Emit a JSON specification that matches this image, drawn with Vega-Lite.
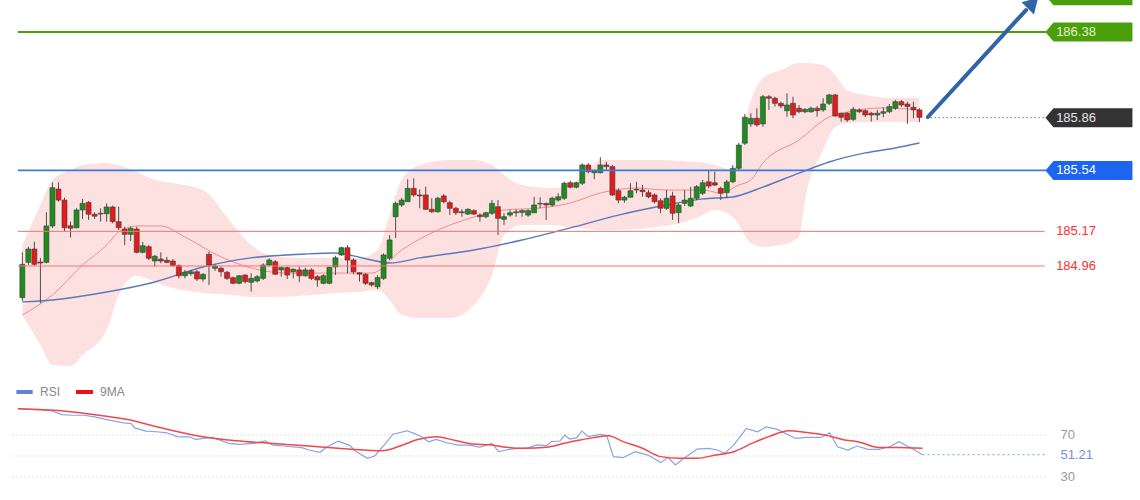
{
  "$schema": "https://vega.github.io/schema/vega-lite/v6.json",
  "width": 1140,
  "height": 500,
  "autosize": {"type": "fit", "contains": "padding"},
  "padding": 0,
  "background": "#ffffff",
  "config": {"view": {"stroke": null}, "font": "Liberation Sans"},
  "datasets": {
    "candles": [
      {"i":0,"o":184.768,"h":185.043,"l":184.748,"c":184.970},
      {"i":1,"o":184.982,"h":185.077,"l":184.966,"c":185.063},
      {"i":2,"o":185.063,"h":185.107,"l":184.962,"c":184.970},
      {"i":3,"o":184.984,"h":185.009,"l":184.735,"c":184.978},
      {"i":4,"o":184.982,"h":185.286,"l":184.976,"c":185.203},
      {"i":5,"o":185.203,"h":185.468,"l":185.189,"c":185.435},
      {"i":6,"o":185.427,"h":185.468,"l":185.350,"c":185.360},
      {"i":7,"o":185.360,"h":185.374,"l":185.168,"c":185.192},
      {"i":8,"o":185.204,"h":185.229,"l":185.132,"c":185.189},
      {"i":9,"o":185.192,"h":185.310,"l":185.189,"c":185.300},
      {"i":10,"o":185.300,"h":185.367,"l":185.245,"c":185.340},
      {"i":11,"o":185.346,"h":185.354,"l":185.239,"c":185.274},
      {"i":12,"o":185.274,"h":185.286,"l":185.245,"c":185.262},
      {"i":13,"o":185.280,"h":185.310,"l":185.229,"c":185.275},
      {"i":14,"o":185.277,"h":185.340,"l":185.229,"c":185.318},
      {"i":15,"o":185.318,"h":185.326,"l":185.219,"c":185.229},
      {"i":16,"o":185.229,"h":185.320,"l":185.178,"c":185.192},
      {"i":17,"o":185.184,"h":185.198,"l":185.087,"c":185.152},
      {"i":18,"o":185.152,"h":185.198,"l":185.112,"c":185.189},
      {"i":19,"o":185.184,"h":185.198,"l":185.037,"c":185.043},
      {"i":20,"o":185.043,"h":185.107,"l":185.037,"c":185.083},
      {"i":21,"o":185.077,"h":185.087,"l":184.996,"c":185.007},
      {"i":22,"o":184.990,"h":185.027,"l":184.956,"c":185.019},
      {"i":23,"o":185.002,"h":185.043,"l":184.976,"c":184.990},
      {"i":24,"o":184.995,"h":185.015,"l":184.976,"c":184.982},
      {"i":25,"o":184.990,"h":185.002,"l":184.956,"c":184.962},
      {"i":26,"o":184.962,"h":184.970,"l":184.885,"c":184.901},
      {"i":27,"o":184.901,"h":184.936,"l":184.885,"c":184.922},
      {"i":28,"o":184.913,"h":184.936,"l":184.901,"c":184.925},
      {"i":29,"o":184.925,"h":184.936,"l":184.869,"c":184.881},
      {"i":30,"o":184.881,"h":184.916,"l":184.865,"c":184.910},
      {"i":31,"o":185.031,"h":185.047,"l":184.845,"c":184.966},
      {"i":32,"o":184.946,"h":184.970,"l":184.930,"c":184.960},
      {"i":33,"o":184.946,"h":184.956,"l":184.895,"c":184.925},
      {"i":34,"o":184.922,"h":184.930,"l":184.875,"c":184.885},
      {"i":35,"o":184.889,"h":184.895,"l":184.849,"c":184.855},
      {"i":36,"o":184.855,"h":184.905,"l":184.849,"c":184.901},
      {"i":37,"o":184.905,"h":184.910,"l":184.855,"c":184.865},
      {"i":38,"o":184.861,"h":184.916,"l":184.804,"c":184.885},
      {"i":39,"o":184.869,"h":184.905,"l":184.861,"c":184.895},
      {"i":40,"o":184.885,"h":184.976,"l":184.875,"c":184.966},
      {"i":41,"o":184.966,"h":185.007,"l":184.956,"c":184.996},
      {"i":42,"o":184.986,"h":184.996,"l":184.905,"c":184.910},
      {"i":43,"o":184.936,"h":184.956,"l":184.895,"c":184.950},
      {"i":44,"o":184.950,"h":184.956,"l":184.881,"c":184.905},
      {"i":45,"o":184.925,"h":184.946,"l":184.885,"c":184.940},
      {"i":46,"o":184.936,"h":184.956,"l":184.861,"c":184.901},
      {"i":47,"o":184.901,"h":184.950,"l":184.895,"c":184.936},
      {"i":48,"o":184.936,"h":184.946,"l":184.875,"c":184.885},
      {"i":49,"o":184.895,"h":184.905,"l":184.834,"c":184.875},
      {"i":50,"o":184.855,"h":184.910,"l":184.849,"c":184.901},
      {"i":51,"o":184.855,"h":184.956,"l":184.849,"c":184.952},
      {"i":52,"o":184.954,"h":185.022,"l":184.905,"c":185.010},
      {"i":53,"o":185.027,"h":185.077,"l":185.022,"c":185.071},
      {"i":54,"o":185.071,"h":185.087,"l":184.916,"c":184.996},
      {"i":55,"o":184.996,"h":185.007,"l":184.910,"c":184.925},
      {"i":56,"o":184.919,"h":184.922,"l":184.865,"c":184.910},
      {"i":57,"o":184.910,"h":184.916,"l":184.845,"c":184.855},
      {"i":58,"o":184.859,"h":184.865,"l":184.834,"c":184.845},
      {"i":59,"o":184.834,"h":184.905,"l":184.820,"c":184.890},
      {"i":60,"o":184.885,"h":185.037,"l":184.875,"c":185.027},
      {"i":61,"o":185.007,"h":185.148,"l":184.996,"c":185.118},
      {"i":62,"o":185.259,"h":185.350,"l":185.130,"c":185.340},
      {"i":63,"o":185.330,"h":185.373,"l":185.318,"c":185.360},
      {"i":64,"o":185.350,"h":185.486,"l":185.350,"c":185.431},
      {"i":65,"o":185.431,"h":185.492,"l":185.380,"c":185.391},
      {"i":66,"o":185.391,"h":185.425,"l":185.310,"c":185.385},
      {"i":67,"o":185.391,"h":185.441,"l":185.300,"c":185.304},
      {"i":68,"o":185.304,"h":185.371,"l":185.283,"c":185.289},
      {"i":69,"o":185.289,"h":185.380,"l":185.283,"c":185.371},
      {"i":70,"o":185.385,"h":185.397,"l":185.340,"c":185.350},
      {"i":71,"o":185.344,"h":185.356,"l":185.269,"c":185.310},
      {"i":72,"o":185.310,"h":185.320,"l":185.269,"c":185.283},
      {"i":73,"o":185.289,"h":185.304,"l":185.259,"c":185.283},
      {"i":74,"o":185.275,"h":185.310,"l":185.269,"c":185.304},
      {"i":75,"o":185.296,"h":185.304,"l":185.269,"c":185.275},
      {"i":76,"o":185.269,"h":185.280,"l":185.229,"c":185.259},
      {"i":77,"o":185.259,"h":185.289,"l":185.249,"c":185.283},
      {"i":78,"o":185.280,"h":185.360,"l":185.269,"c":185.340},
      {"i":79,"o":185.320,"h":185.360,"l":185.148,"c":185.249},
      {"i":80,"o":185.243,"h":185.280,"l":185.209,"c":185.259},
      {"i":81,"o":185.269,"h":185.300,"l":185.259,"c":185.283},
      {"i":82,"o":185.283,"h":185.304,"l":185.259,"c":185.289},
      {"i":83,"o":185.285,"h":185.304,"l":185.259,"c":185.296},
      {"i":84,"o":185.269,"h":185.304,"l":185.259,"c":185.296},
      {"i":85,"o":185.283,"h":185.380,"l":185.280,"c":185.330},
      {"i":86,"o":185.336,"h":185.377,"l":185.310,"c":185.340},
      {"i":87,"o":185.340,"h":185.344,"l":185.239,"c":185.330},
      {"i":88,"o":185.330,"h":185.380,"l":185.320,"c":185.371},
      {"i":89,"o":185.360,"h":185.401,"l":185.350,"c":185.380},
      {"i":90,"o":185.371,"h":185.471,"l":185.360,"c":185.462},
      {"i":91,"o":185.465,"h":185.478,"l":185.431,"c":185.438},
      {"i":92,"o":185.438,"h":185.471,"l":185.431,"c":185.465},
      {"i":93,"o":185.462,"h":185.583,"l":185.451,"c":185.573},
      {"i":94,"o":185.573,"h":185.583,"l":185.522,"c":185.532},
      {"i":95,"o":185.526,"h":185.542,"l":185.486,"c":185.538},
      {"i":96,"o":185.526,"h":185.620,"l":185.522,"c":185.573},
      {"i":97,"o":185.573,"h":185.593,"l":185.538,"c":185.563},
      {"i":98,"o":185.563,"h":185.573,"l":185.385,"c":185.391},
      {"i":99,"o":185.417,"h":185.431,"l":185.340,"c":185.360},
      {"i":100,"o":185.360,"h":185.385,"l":185.344,"c":185.377},
      {"i":101,"o":185.377,"h":185.462,"l":185.377,"c":185.417},
      {"i":102,"o":185.425,"h":185.471,"l":185.401,"c":185.421},
      {"i":103,"o":185.421,"h":185.451,"l":185.380,"c":185.411},
      {"i":104,"o":185.405,"h":185.421,"l":185.371,"c":185.380},
      {"i":105,"o":185.391,"h":185.401,"l":185.340,"c":185.350},
      {"i":106,"o":185.356,"h":185.371,"l":185.280,"c":185.310},
      {"i":107,"o":185.310,"h":185.421,"l":185.300,"c":185.371},
      {"i":108,"o":185.385,"h":185.411,"l":185.239,"c":185.280},
      {"i":109,"o":185.283,"h":185.340,"l":185.219,"c":185.330},
      {"i":110,"o":185.340,"h":185.421,"l":185.324,"c":185.360},
      {"i":111,"o":185.324,"h":185.441,"l":185.318,"c":185.371},
      {"i":112,"o":185.371,"h":185.451,"l":185.360,"c":185.441},
      {"i":113,"o":185.401,"h":185.482,"l":185.391,"c":185.465},
      {"i":114,"o":185.471,"h":185.542,"l":185.431,"c":185.445},
      {"i":115,"o":185.465,"h":185.532,"l":185.445,"c":185.451},
      {"i":116,"o":185.431,"h":185.441,"l":185.360,"c":185.401},
      {"i":117,"o":185.405,"h":185.482,"l":185.371,"c":185.470},
      {"i":118,"o":185.471,"h":185.573,"l":185.462,"c":185.553},
      {"i":119,"o":185.553,"h":185.708,"l":185.542,"c":185.694},
      {"i":120,"o":185.705,"h":185.882,"l":185.694,"c":185.862},
      {"i":121,"o":185.822,"h":185.887,"l":185.805,"c":185.856},
      {"i":122,"o":185.856,"h":185.917,"l":185.805,"c":185.816},
      {"i":123,"o":185.822,"h":185.998,"l":185.805,"c":185.987},
      {"i":124,"o":185.987,"h":185.998,"l":185.907,"c":185.978},
      {"i":125,"o":185.978,"h":185.987,"l":185.927,"c":185.947},
      {"i":126,"o":185.947,"h":185.957,"l":185.917,"c":185.931},
      {"i":127,"o":185.902,"h":186.008,"l":185.866,"c":185.937},
      {"i":128,"o":185.947,"h":185.987,"l":185.856,"c":185.876},
      {"i":129,"o":185.917,"h":185.937,"l":185.887,"c":185.896},
      {"i":130,"o":185.896,"h":185.917,"l":185.887,"c":185.911},
      {"i":131,"o":185.896,"h":185.927,"l":185.890,"c":185.917},
      {"i":132,"o":185.917,"h":185.931,"l":185.866,"c":185.902},
      {"i":133,"o":185.907,"h":185.978,"l":185.896,"c":185.943},
      {"i":134,"o":185.947,"h":186.004,"l":185.937,"c":185.998},
      {"i":135,"o":185.998,"h":186.004,"l":185.866,"c":185.870},
      {"i":136,"o":185.887,"h":185.890,"l":185.836,"c":185.862},
      {"i":137,"o":185.887,"h":185.894,"l":185.834,"c":185.846},
      {"i":138,"o":185.850,"h":185.925,"l":185.840,"c":185.911},
      {"i":139,"o":185.907,"h":185.917,"l":185.887,"c":185.896},
      {"i":140,"o":185.902,"h":185.911,"l":185.864,"c":185.876},
      {"i":141,"o":185.887,"h":185.896,"l":185.836,"c":185.876},
      {"i":142,"o":185.876,"h":185.907,"l":185.846,"c":185.887},
      {"i":143,"o":185.887,"h":185.923,"l":185.862,"c":185.896},
      {"i":144,"o":185.896,"h":185.943,"l":185.887,"c":185.927},
      {"i":145,"o":185.917,"h":185.967,"l":185.907,"c":185.957},
      {"i":146,"o":185.957,"h":185.967,"l":185.925,"c":185.937},
      {"i":147,"o":185.943,"h":185.957,"l":185.822,"c":185.927},
      {"i":148,"o":185.923,"h":185.957,"l":185.856,"c":185.907},
      {"i":149,"o":185.907,"h":185.917,"l":185.834,"c":185.862}
    ],
    "bands": [
      {"i":0,"up":185.087,"lo":184.663},
      {"i":3,"up":185.330,"lo":184.481},
      {"i":5,"up":185.482,"lo":184.359},
      {"i":8,"up":185.542,"lo":184.353},
      {"i":10,"up":185.573,"lo":184.420},
      {"i":14,"up":185.585,"lo":184.572},
      {"i":16,"up":185.573,"lo":184.784},
      {"i":19,"up":185.530,"lo":184.900},
      {"i":22,"up":185.482,"lo":184.863},
      {"i":25,"up":185.464,"lo":184.826},
      {"i":30,"up":185.421,"lo":184.796},
      {"i":35,"up":185.209,"lo":184.784},
      {"i":38,"up":185.087,"lo":184.772},
      {"i":41,"up":185.027,"lo":184.772},
      {"i":46,"up":185.009,"lo":184.778},
      {"i":52,"up":185.009,"lo":184.796},
      {"i":56,"up":185.009,"lo":184.802},
      {"i":59,"up":185.057,"lo":184.814},
      {"i":61,"up":185.269,"lo":184.754},
      {"i":63,"up":185.482,"lo":184.663},
      {"i":66,"up":185.573,"lo":184.644},
      {"i":71,"up":185.603,"lo":184.644},
      {"i":75,"up":185.603,"lo":184.723},
      {"i":78,"up":185.573,"lo":184.905},
      {"i":80,"up":185.512,"lo":185.148},
      {"i":83,"up":185.451,"lo":185.209},
      {"i":88,"up":185.433,"lo":185.209},
      {"i":91,"up":185.451,"lo":185.197},
      {"i":94,"up":185.542,"lo":185.184},
      {"i":96,"up":185.603,"lo":185.178},
      {"i":104,"up":185.603,"lo":185.191},
      {"i":112,"up":185.591,"lo":185.251},
      {"i":115,"up":185.573,"lo":185.300},
      {"i":118,"up":185.542,"lo":185.257},
      {"i":121,"up":185.967,"lo":185.099},
      {"i":123,"up":186.101,"lo":185.075},
      {"i":126,"up":186.149,"lo":185.087},
      {"i":129,"up":186.192,"lo":185.136},
      {"i":130,"up":186.192,"lo":185.360},
      {"i":133,"up":186.180,"lo":185.664},
      {"i":135,"up":186.119,"lo":185.803},
      {"i":137,"up":186.028,"lo":185.828},
      {"i":140,"up":185.998,"lo":185.834},
      {"i":145,"up":185.979,"lo":185.834},
      {"i":149,"up":185.979,"lo":185.834}
    ],
    "mid": [
      {"i":0,"v":184.663},{"i":5,"v":184.784},{"i":10,"v":184.966},{"i":14,"v":185.087},
      {"i":16,"v":185.166},{"i":19,"v":185.203},{"i":23,"v":185.203},{"i":27,"v":185.136},
      {"i":33,"v":185.015},{"i":38,"v":184.948},{"i":44,"v":184.917},{"i":52,"v":184.917},
      {"i":58,"v":184.917},{"i":63,"v":185.057},{"i":69,"v":185.178},{"i":75,"v":185.257},
      {"i":80,"v":185.300},{"i":86,"v":185.312},{"i":91,"v":185.342},{"i":96,"v":185.403},
      {"i":102,"v":185.433},{"i":107,"v":185.421},{"i":113,"v":185.421},{"i":116,"v":185.403},
      {"i":119,"v":185.451},{"i":121,"v":185.482},{"i":123,"v":185.585},{"i":129,"v":185.725},
      {"i":134,"v":185.864},{"i":137,"v":185.894},{"i":143,"v":185.919},{"i":149,"v":185.907}
    ],
    "slow": [
      {"i":0,"v":184.742},{"i":5,"v":184.754},{"i":14,"v":184.802},{"i":22,"v":184.863},
      {"i":30,"v":184.954},{"i":38,"v":185.009},{"i":47,"v":185.033},{"i":52,"v":185.039},
      {"i":55,"v":185.021},{"i":58,"v":184.996},{"i":61,"v":184.978},{"i":66,"v":185.009},
      {"i":75,"v":185.057},{"i":83,"v":185.118},{"i":91,"v":185.191},{"i":99,"v":185.269},
      {"i":107,"v":185.330},{"i":113,"v":185.367},{"i":118,"v":185.379},{"i":123,"v":185.439},
      {"i":129,"v":185.524},{"i":134,"v":185.591},{"i":140,"v":185.646},{"i":145,"v":185.676},
      {"i":149,"v":185.706}
    ],
    "levels": [
      {"p":186.6,"label":"","kind":"top"},
      {"p":186.38,"label":"186.38","kind":"target"},
      {"p":185.86,"label":"185.86","kind":"price"},
      {"p":185.54,"label":"185.54","kind":"support"},
      {"p":185.17,"label":"185.17","kind":"s1"},
      {"p":184.96,"label":"184.96","kind":"s2"}
    ],
    "rsi": [
      {"i":0.1,"v":95.1},{"i":3.1,"v":94.2},{"i":5.5,"v":93.5},{"i":7.3,"v":89.4},{"i":9.1,"v":88.8},
      {"i":10.9,"v":88.8},{"i":12.7,"v":87.2},{"i":15.1,"v":84.1},{"i":17.5,"v":81.5},{"i":18.7,"v":80.9},
      {"i":19.3,"v":76.8},{"i":21.1,"v":73.7},{"i":22.9,"v":73.1},{"i":24.6,"v":72.1},{"i":26.4,"v":68.3},
      {"i":28.2,"v":68.3},{"i":29.4,"v":65.8},{"i":30.6,"v":66.7},{"i":31.8,"v":67.7},{"i":33,"v":65.8},
      {"i":34.8,"v":62},{"i":36.6,"v":61},{"i":39,"v":62},{"i":40.8,"v":64.5},{"i":42,"v":60.4},
      {"i":43.8,"v":59.5},{"i":45,"v":58.8},{"i":46.8,"v":57.9},{"i":48,"v":55.7},{"i":49.8,"v":53.5},
      {"i":51,"v":58.8},{"i":52.8,"v":64.2},{"i":54.6,"v":60.4},{"i":55.8,"v":54.1},{"i":57.6,"v":47.8},
      {"i":58.8,"v":50},{"i":60.6,"v":62},{"i":61.8,"v":70.8},{"i":64.1,"v":74},{"i":65.3,"v":71.5},
      {"i":66.5,"v":68.3},{"i":67.7,"v":63.6},{"i":68.9,"v":65.8},{"i":70.7,"v":62.6},{"i":72.5,"v":60.4},
      {"i":74.3,"v":60.4},{"i":76.1,"v":58.5},{"i":78.1,"v":62},{"i":79.2,"v":54.1},{"i":80.5,"v":55.7},
      {"i":82.2,"v":57.3},{"i":83.8,"v":57.3},{"i":85.5,"v":60.5},{"i":87.1,"v":59.8},{"i":87.9,"v":63.7},
      {"i":89.3,"v":64.3},{"i":90.1,"v":70},{"i":90.9,"v":66.2},{"i":92.1,"v":67.5},{"i":92.9,"v":73.8},
      {"i":94,"v":68.4},{"i":95.9,"v":70.6},{"i":97,"v":69.4},{"i":98.1,"v":49.4},{"i":99.7,"v":48.4},
      {"i":101.7,"v":54.1},{"i":103.8,"v":50.9},{"i":105.9,"v":43.7},{"i":107.1,"v":48.7},{"i":108.3,"v":41.5},
      {"i":109.5,"v":46.9},{"i":111.9,"v":56.6},{"i":113.7,"v":57.3},{"i":115.2,"v":55.7},{"i":116.4,"v":52.5},
      {"i":117.9,"v":60.4},{"i":120,"v":76.2},{"i":121.8,"v":73},{"i":123.3,"v":77.8},{"i":125.1,"v":75.3},
      {"i":128.1,"v":66.7},{"i":129.9,"v":67.7},{"i":132.3,"v":67.7},{"i":133.7,"v":72.1},{"i":135,"v":58.8},
      {"i":136.7,"v":55.7},{"i":138.2,"v":59.5},{"i":140,"v":56.3},{"i":141.8,"v":56.3},{"i":143.6,"v":58.8},
      {"i":145.1,"v":63.6},{"i":147.2,"v":57.3},{"i":149,"v":51.21}
    ],
    "rsima": [
      {"i":0.1,"v":95.1},{"i":6.1,"v":93.5},{"i":12.1,"v":89.7},{"i":18.1,"v":84.7},{"i":24.1,"v":76.2},
      {"i":30,"v":68.9},{"i":36,"v":64.5},{"i":42,"v":62},{"i":48,"v":59.5},{"i":52.8,"v":57.3},
      {"i":57,"v":55.7},{"i":60,"v":55},{"i":63,"v":59.5},{"i":65.9,"v":65.8},{"i":68.9,"v":68.3},
      {"i":71.9,"v":65.1},{"i":74.9,"v":61.4},{"i":78.1,"v":60.5},{"i":80.5,"v":58.3},{"i":83.3,"v":57.3},
      {"i":87.1,"v":58.3},{"i":89.9,"v":62},{"i":92.6,"v":65.2},{"i":94.8,"v":67.5},{"i":97.3,"v":69.4},
      {"i":99.7,"v":63.7},{"i":102.7,"v":57.8},{"i":105.9,"v":49.4},{"i":108.9,"v":47.8},{"i":111.9,"v":47.8},
      {"i":114.9,"v":50.9},{"i":117.9,"v":54.1},{"i":120.9,"v":62},{"i":123.9,"v":68.9},{"i":126.9,"v":74.1},
      {"i":129.9,"v":72.5},{"i":132.9,"v":70},{"i":135.8,"v":65.8},{"i":138.8,"v":62.9},{"i":141.8,"v":58.2},
      {"i":144.8,"v":58.2},{"i":149,"v":57.3}
    ],
    "rsilabels": [
      {"r":70,"label":"70","kind":"grid"},
      {"r":51.21,"label":"51.21","kind":"value"},
      {"r":30,"label":"30","kind":"grid"}
    ],
    "legend": [
      {"name":"RSI","x1":-0.18,"x2":2.5,"tx":3.7},
      {"name":"9MA","x1":9.63,"x2":12.43,"tx":13.58}
    ]
  },
  "resolve": {"scale": {"x": "independent", "y": "independent"}},
  "layer": [
    {
      "layer": [
        {
          "data": {"name": "bands"},
          "mark": {"type": "area", "color": "#fde1e1", "interpolate": "monotone"},
          "encoding": {
            "x": {"field": "i", "type": "quantitative", "scale": {"domain": [-2.881, 184.8], "nice": false, "zero": false}, "axis": null},
            "y": {"field": "lo", "type": "quantitative", "scale": {"domain": [183.54, 186.574], "nice": false, "zero": false}, "axis": null},
            "y2": {"field": "up"}
          }
        },
        {
          "data": {"name": "mid"},
          "mark": {"type": "line", "color": "#f48a8a", "strokeWidth": 1, "interpolate": "monotone"},
          "encoding": {
            "x": {"field": "i", "type": "quantitative", "scale": {"domain": [-2.881, 184.8], "nice": false, "zero": false}, "axis": null},
            "y": {"field": "v", "type": "quantitative", "scale": {"domain": [183.54, 186.574], "nice": false, "zero": false}, "axis": null}
          }
        },
        {
          "data": {"name": "slow"},
          "mark": {"type": "line", "color": "#5b79b9", "strokeWidth": 1.4, "interpolate": "monotone"},
          "encoding": {
            "x": {"field": "i", "type": "quantitative", "scale": {"domain": [-2.881, 184.8], "nice": false, "zero": false}, "axis": null},
            "y": {"field": "v", "type": "quantitative", "scale": {"domain": [183.54, 186.574], "nice": false, "zero": false}, "axis": null}
          }
        },
        {
          "data": {"name": "candles"},
          "mark": {"type": "rule", "color": "#4d4d4d", "strokeWidth": 1},
          "encoding": {
            "x": {"field": "i", "type": "quantitative", "scale": {"domain": [-2.881, 184.8], "nice": false, "zero": false}, "axis": null},
            "y": {"field": "l", "type": "quantitative", "scale": {"domain": [183.54, 186.574], "nice": false, "zero": false}, "axis": null},
            "y2": {"field": "h"}
          }
        },
        {
          "data": {"name": "candles"},
          "mark": {"type": "bar", "width": 5, "stroke": "#3c3c3c", "strokeWidth": 0.6},
          "encoding": {
            "x": {"field": "i", "type": "quantitative", "scale": {"domain": [-2.881, 184.8], "nice": false, "zero": false}, "axis": null},
            "y": {"field": "o", "type": "quantitative", "scale": {"domain": [183.54, 186.574], "nice": false, "zero": false}, "axis": null},
            "y2": {"field": "c"},
            "fill": {"condition": {"test": "datum.c >= datum.o", "value": "#1f8c1f"}, "value": "#e31b1b"}
          }
        },
        {
          "data": {"name": "levels"},
          "transform": [{"filter": "datum.kind === 's1' || datum.kind === 's2'"}],
          "mark": {"type": "rule", "color": "#ff7070", "strokeWidth": 1},
          "encoding": {
            "x": {"datum": -0.74, "type": "quantitative", "scale": {"domain": [-2.881, 184.8], "nice": false, "zero": false}, "axis": null},
            "x2": {"datum": 169.8},
            "y": {"field": "p", "type": "quantitative", "scale": {"domain": [183.54, 186.574], "nice": false, "zero": false}, "axis": null}
          }
        },
        {
          "data": {"name": "levels"},
          "transform": [{"filter": "datum.kind === 'target'"}],
          "mark": {"type": "rule", "color": "#4b9e0c", "strokeWidth": 2},
          "encoding": {
            "x": {"datum": -0.74, "type": "quantitative", "scale": {"domain": [-2.881, 184.8], "nice": false, "zero": false}, "axis": null},
            "x2": {"datum": 170},
            "y": {"field": "p", "type": "quantitative", "scale": {"domain": [183.54, 186.574], "nice": false, "zero": false}, "axis": null}
          }
        },
        {
          "data": {"name": "levels"},
          "transform": [{"filter": "datum.kind === 'support'"}],
          "mark": {"type": "rule", "color": "#3b7be0", "strokeWidth": 1.6},
          "encoding": {
            "x": {"datum": -0.74, "type": "quantitative", "scale": {"domain": [-2.881, 184.8], "nice": false, "zero": false}, "axis": null},
            "x2": {"datum": 170},
            "y": {"field": "p", "type": "quantitative", "scale": {"domain": [183.54, 186.574], "nice": false, "zero": false}, "axis": null}
          }
        },
        {
          "data": {"name": "levels"},
          "transform": [{"filter": "datum.kind === 'price'"}],
          "mark": {"type": "rule", "color": "#333333", "strokeWidth": 1, "strokeDash": [1, 3]},
          "encoding": {
            "x": {"datum": 150.2, "type": "quantitative", "scale": {"domain": [-2.881, 184.8], "nice": false, "zero": false}, "axis": null},
            "x2": {"datum": 170},
            "y": {"field": "p", "type": "quantitative", "scale": {"domain": [183.54, 186.574], "nice": false, "zero": false}, "axis": null}
          }
        },
        {
          "data": {"values": [{}]},
          "mark": {"type": "rule", "color": "#2f64a9", "strokeWidth": 4, "strokeCap": "round", "clip": true},
          "encoding": {
            "x": {"datum": 150.4, "type": "quantitative", "scale": {"domain": [-2.881, 184.8], "nice": false, "zero": false}, "axis": null},
            "y": {"datum": 185.864, "type": "quantitative", "scale": {"domain": [183.54, 186.574], "nice": false, "zero": false}, "axis": null},
            "x2": {"datum": 166.7},
            "y2": {"datum": 186.513}
          }
        },
        {
          "data": {"values": [{}]},
          "mark": {"type": "point", "shape": "triangle-up", "filled": true, "color": "#2f64a9", "opacity": 1, "size": 300, "angle": 44, "clip": true},
          "encoding": {
            "x": {"datum": 167.85, "type": "quantitative", "scale": {"domain": [-2.881, 184.8], "nice": false, "zero": false}, "axis": null},
            "y": {"datum": 186.556, "type": "quantitative", "scale": {"domain": [183.54, 186.574], "nice": false, "zero": false}, "axis": null}
          }
        },
        {
          "data": {"name": "levels"},
          "transform": [{"filter": "datum.kind !== 's1' && datum.kind !== 's2'"}],
          "mark": {"type": "point", "shape": "M -1 0 L -0.816 -0.218 L 1 -0.218 L 1 0.218 L -0.816 0.218 Z", "filled": true, "opacity": 1, "size": 7569, "clip": true},
          "encoding": {
            "x": {"datum": 177.15, "type": "quantitative", "scale": {"domain": [-2.881, 184.8], "nice": false, "zero": false}, "axis": null},
            "y": {"field": "p", "type": "quantitative", "scale": {"domain": [183.54, 186.574], "nice": false, "zero": false}, "axis": null},
            "fill": {"condition": [{"test": "datum.kind === 'price'", "value": "#333333"}, {"test": "datum.kind === 'support'", "value": "#1d64ef"}], "value": "#4c9f0c"}
          }
        },
        {
          "data": {"name": "levels"},
          "transform": [{"filter": "datum.label !== ''"}],
          "mark": {"type": "text", "align": "left", "baseline": "middle", "fontSize": 13, "font": "Liberation Sans"},
          "encoding": {
            "x": {"datum": 171.7, "type": "quantitative", "scale": {"domain": [-2.881, 184.8], "nice": false, "zero": false}, "axis": null},
            "y": {"field": "p", "type": "quantitative", "scale": {"domain": [183.54, 186.574], "nice": false, "zero": false}, "axis": null},
            "text": {"field": "label"},
            "fill": {"condition": [{"test": "datum.kind === 'target'", "value": "#e4f2cf"}, {"test": "datum.kind === 'price'", "value": "#e6e6e6"}, {"test": "datum.kind === 'support'", "value": "#ffffff"}], "value": "#ff2e2e"}
          }
        }
      ]
    },
    {
      "layer": [
        {
          "data": {"values": [{"r": 70}, {"r": 30}]},
          "mark": {"type": "rule", "color": "#c4c4c4", "strokeWidth": 1, "strokeDash": [1, 3]},
          "encoding": {
            "x": {"datum": -0.8, "type": "quantitative", "scale": {"domain": [-2.881, 184.8], "nice": false, "zero": false}, "axis": null},
            "x2": {"datum": 169.3},
            "y": {"field": "r", "type": "quantitative", "scale": {"domain": [8.095, 484.29], "nice": false, "zero": false}, "axis": null}
          }
        },
        {
          "data": {"values": [{"r": 50}]},
          "mark": {"type": "rule", "color": "#c4c4c4", "strokeWidth": 1, "strokeDash": [1, 3]},
          "encoding": {
            "x": {"datum": -0.8, "type": "quantitative", "scale": {"domain": [-2.881, 184.8], "nice": false, "zero": false}, "axis": null},
            "x2": {"datum": 149},
            "y": {"field": "r", "type": "quantitative", "scale": {"domain": [8.095, 484.29], "nice": false, "zero": false}, "axis": null}
          }
        },
        {
          "data": {"values": [{"r": 51.21}]},
          "mark": {"type": "rule", "color": "#7f9de4", "strokeWidth": 1, "strokeDash": [2, 3]},
          "encoding": {
            "x": {"datum": 149, "type": "quantitative", "scale": {"domain": [-2.881, 184.8], "nice": false, "zero": false}, "axis": null},
            "x2": {"datum": 169.3},
            "y": {"field": "r", "type": "quantitative", "scale": {"domain": [8.095, 484.29], "nice": false, "zero": false}, "axis": null}
          }
        },
        {
          "data": {"name": "rsi"},
          "mark": {"type": "line", "color": "#86a3e6", "strokeWidth": 1.2},
          "encoding": {
            "x": {"field": "i", "type": "quantitative", "scale": {"domain": [-2.881, 184.8], "nice": false, "zero": false}, "axis": null},
            "y": {"field": "v", "type": "quantitative", "scale": {"domain": [8.095, 484.29], "nice": false, "zero": false}, "axis": null}
          }
        },
        {
          "data": {"name": "rsima"},
          "mark": {"type": "line", "color": "#f2474a", "strokeWidth": 1.5, "interpolate": "monotone"},
          "encoding": {
            "x": {"field": "i", "type": "quantitative", "scale": {"domain": [-2.881, 184.8], "nice": false, "zero": false}, "axis": null},
            "y": {"field": "v", "type": "quantitative", "scale": {"domain": [8.095, 484.29], "nice": false, "zero": false}, "axis": null}
          }
        },
        {
          "data": {"name": "rsilabels"},
          "mark": {"type": "text", "align": "left", "baseline": "middle", "fontSize": 13, "font": "Liberation Sans"},
          "encoding": {
            "x": {"datum": 171.7, "type": "quantitative", "scale": {"domain": [-2.881, 184.8], "nice": false, "zero": false}, "axis": null},
            "y": {"field": "r", "type": "quantitative", "scale": {"domain": [8.095, 484.29], "nice": false, "zero": false}, "axis": null},
            "text": {"field": "label"},
            "fill": {"condition": {"test": "datum.kind === 'value'", "value": "#6f90e2"}, "value": "#9a9a9a"}
          }
        },
        {
          "data": {"name": "legend"},
          "mark": {"type": "rule", "strokeWidth": 4},
          "encoding": {
            "x": {"field": "x1", "type": "quantitative", "scale": {"domain": [-2.881, 184.8], "nice": false, "zero": false}, "axis": null},
            "x2": {"field": "x2"},
            "y": {"datum": 110.95, "type": "quantitative", "scale": {"domain": [8.095, 484.29], "nice": false, "zero": false}, "axis": null},
            "stroke": {"condition": {"test": "datum.name === 'RSI'", "value": "#5f82dc"}, "value": "#ee1111"}
          }
        },
        {
          "data": {"name": "legend"},
          "mark": {"type": "text", "align": "left", "baseline": "middle", "fontSize": 12, "font": "Liberation Sans", "color": "#888888"},
          "encoding": {
            "x": {"field": "tx", "type": "quantitative", "scale": {"domain": [-2.881, 184.8], "nice": false, "zero": false}, "axis": null},
            "y": {"datum": 110.95, "type": "quantitative", "scale": {"domain": [8.095, 484.29], "nice": false, "zero": false}, "axis": null},
            "text": {"field": "name"}
          }
        }
      ]
    }
  ]
}
